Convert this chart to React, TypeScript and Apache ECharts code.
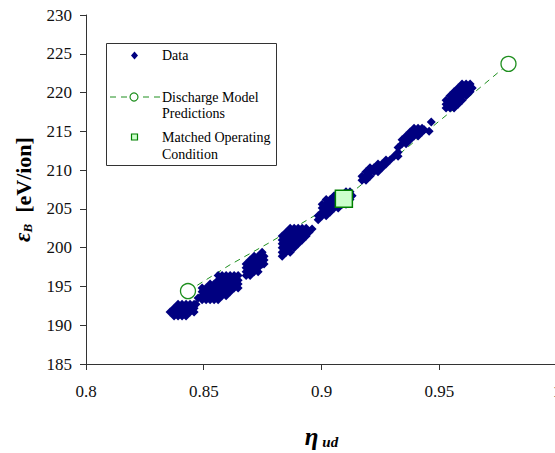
import { useEffect, useRef } from "react";
import * as echarts from "echarts";

// Measured points, grouped by cluster: [eta_ud, [eps_B values...]]
const clusterA: [number, number[]][] = [
  [0.8357, [191.7]],
  [0.8374, [192.2, 191.7, 191.2]],
  [0.8391, [192.7, 192.2, 191.7, 191.2]],
  [0.8408, [192.7, 192.2, 191.7, 191.2]],
  [0.8425, [192.7, 192.2, 191.7, 191.2]],
  [0.8442, [192.7, 192.2, 191.7]],
  [0.8459, [192.7, 192.2, 191.7]],
  [0.8467, [192.7]],
];
const clusterB: [number, number[]][] = [
  [0.8476, [193.5]],
  [0.8493, [194.8, 194.3, 193.8, 193.3]],
  [0.851, [194.8, 194.3, 193.8, 193.3]],
  [0.8527, [195.3, 194.8, 194.3, 193.8, 193.3]],
  [0.8544, [195.3, 194.8, 194.3, 193.8, 193.3]],
  [0.8561, [196.4, 195.8, 195.3, 194.8, 194.3, 193.8, 193.3]],
  [0.8578, [196.4, 195.8, 195.3, 194.8, 194.3, 193.8]],
  [0.8595, [196.4, 195.8, 195.3, 194.8, 194.3, 193.8]],
  [0.8612, [196.4, 195.8, 195.3, 194.8, 194.3]],
  [0.8629, [196.4, 195.8, 195.3, 194.8]],
  [0.8646, [196.4, 195.8, 195.3, 194.8]],
];
const clusterC: [number, number[]][] = [
  [0.868, [197.9, 197.4, 196.9, 196.4]],
  [0.8697, [198.4, 197.9, 197.4, 196.9, 196.4]],
  [0.8714, [198.9, 198.4, 197.9, 197.4, 196.9]],
  [0.8731, [198.9, 198.4, 197.9, 197.4, 196.9]],
  [0.8748, [199.4, 198.9, 198.4, 197.9]],
  [0.8756, [198.9, 198.4, 197.9]],
];
const clusterD: [number, number[]][] = [
  [0.8833, [201.5, 201.0, 200.5, 200.0, 199.4, 198.9]],
  [0.885, [202.0, 201.5, 201.0, 200.5, 200.0, 199.4]],
  [0.8867, [202.5, 202.0, 201.5, 201.0, 200.5, 200.0, 199.4]],
  [0.8884, [202.5, 202.0, 201.5, 201.0, 200.5, 200.0]],
  [0.8901, [202.5, 202.0, 201.5, 201.0, 200.5]],
  [0.8918, [202.5, 202.0, 201.5, 201.0]],
  [0.8935, [202.5, 202.0, 201.5]],
  [0.8947, [202.0]],
  [0.896, [202.4]],
];
const clusterE: [number, number[]][] = [
  [0.8986, [204.1, 203.6]],
  [0.9003, [205.6, 205.1, 204.6, 204.1]],
  [0.902, [206.2, 205.6, 205.1, 204.6, 204.1]],
  [0.9037, [206.2, 205.6, 205.1, 204.6]],
  [0.9054, [206.7, 206.2, 205.6, 205.1]],
  [0.9071, [206.7, 206.2, 205.6, 205.1]],
  [0.9087, [206.7, 206.2, 205.6]],
  [0.9104, [207.2, 206.7, 206.2, 205.6]],
  [0.9121, [207.2, 206.7, 206.2]],
  [0.913, [206.7]],
];
const clusterF: [number, number[]][] = [
  [0.9172, [209.2, 208.7]],
  [0.9189, [209.8, 209.2, 208.7]],
  [0.9206, [210.3, 209.8, 209.2]],
  [0.9223, [210.3, 209.8]],
  [0.924, [210.8, 210.3, 209.8]],
  [0.9257, [210.8, 210.3]],
  [0.9274, [211.3, 210.8]],
  [0.9291, [211.3]],
  [0.9308, [211.8]],
  [0.9325, [212.9, 212.3, 211.8]],
];
const clusterG: [number, number[]][] = [
  [0.9342, [213.9, 213.4]],
  [0.9359, [214.4, 213.9, 213.4]],
  [0.9376, [214.9, 214.4, 213.9]],
  [0.9393, [215.4, 214.9, 214.4]],
  [0.941, [215.4, 214.9, 214.4]],
  [0.9427, [215.4, 214.9]],
  [0.9436, [215.2]],
  [0.9457, [215.0]],
  [0.9466, [216.2]],
];
const clusterH: [number, number[]][] = [
  [0.9529, [219.0, 218.5, 218.0]],
  [0.9546, [219.6, 219.0, 218.5, 218.0]],
  [0.9563, [220.1, 219.6, 219.0, 218.5, 218.0]],
  [0.958, [220.6, 220.1, 219.6, 219.0, 218.5]],
  [0.9597, [221.1, 220.6, 220.1, 219.6, 219.0]],
  [0.9614, [221.1, 220.6, 220.1, 219.6]],
  [0.9631, [221.1, 220.6, 220.1]],
  [0.964, [220.6]],
];

// Discharge model predictions (dashed curve) and the matched operating point
const modelEta = [0.8433, 0.8612, 0.8782, 0.8952, 0.9095, 0.93, 0.9511, 0.966, 0.9794];
const modelEps = [194.4, 197.8, 200.7, 203.8, 206.3, 211.3, 216.6, 220.3, 223.7];
const matchedEta = [0.9095];
const matchedEps = [206.3];

const SERIF = "Liberation Serif";
const NAVY = "#000080";
const GREEN = "#1f8f1f";

export default function App() {
  const ref = useRef<HTMLDivElement>(null);

  useEffect(() => {
    if (!ref.current) return;
    const chart = echarts.init(ref.current, null, { renderer: "svg" });

    const measured = [clusterA, clusterB, clusterC, clusterD, clusterE, clusterF, clusterG, clusterH].flatMap(
      (c) => c.flatMap(([x, ys]) => ys.map((y) => [x, y]))
    );
    const last = modelEta.length - 1;
    const model = modelEta.map((x, i) => ({
      value: [x, modelEps[i]],
      symbol: i === 0 || i === last ? "circle" : "none",
    }));
    const matched = matchedEta.map((x, i) => [x, matchedEps[i]]);

    const legendText = (text: string, y: number) => ({
      type: "text",
      style: {
        text,
        x: 162,
        y,
        fontFamily: SERIF,
        fontSize: 14,
        fill: "#000",
        align: "left",
        verticalAlign: "middle",
      },
      z: 101,
    });

    const tickLabel = { margin: 14, fontFamily: SERIF, fontSize: 17, fontWeight: "normal", color: "#111" };

    chart.setOption({
      animation: false,
      backgroundColor: "#fff",
      textStyle: { fontFamily: SERIF },
      grid: { left: 86, top: 15, width: 471, height: 349, containLabel: false, outerBoundsMode: "none" },
      xAxis: {
        type: "value",
        min: 0.8,
        max: 1,
        interval: 0.05,
        axisLine: { show: true, lineStyle: { color: "#333", width: 1 } },
        axisTick: { show: true, length: 6, lineStyle: { color: "#333" } },
        splitLine: { show: false },
        axisLabel: { ...tickLabel, margin: 19, hideOverlap: false },
        name: "{eta|η}{sub| ud}",
        nameLocation: "middle",
        nameGap: 60,
        nameTextStyle: {
          rich: {
            eta: { fontFamily: SERIF, fontSize: 25, fontWeight: "bold", fontStyle: "italic", color: "#000", verticalAlign: "bottom" },
            sub: { fontFamily: SERIF, fontSize: 15, fontWeight: "bold", fontStyle: "italic", color: "#000", verticalAlign: "bottom" },
          },
        },
      },
      yAxis: {
        type: "value",
        min: 185,
        max: 230,
        interval: 5,
        axisLine: { show: true, lineStyle: { color: "#333", width: 1 } },
        axisTick: { show: true, length: 6, lineStyle: { color: "#333" } },
        splitLine: { show: false },
        axisLabel: tickLabel,
        name: "{e|ε}{b|B}{t|  [eV/ion]}",
        nameLocation: "middle",
        nameGap: 52,
        nameTextStyle: {
          rich: {
            e: { fontFamily: SERIF, fontSize: 23, fontWeight: "bold", fontStyle: "italic", color: "#000", verticalAlign: "bottom" },
            b: { fontFamily: SERIF, fontSize: 13, fontWeight: "bold", fontStyle: "italic", color: "#000", verticalAlign: "bottom" },
            t: { fontFamily: SERIF, fontSize: 22, fontWeight: "bold", color: "#000", verticalAlign: "bottom" },
          },
        },
      },
      series: [
        {
          name: "Discharge Model Predictions",
          type: "line",
          data: model,
          symbolSize: 15,
          showAllSymbol: true,
          lineStyle: { color: GREEN, width: 1, type: [6, 5] },
          itemStyle: { color: "#fff", borderColor: GREEN, borderWidth: 1.3, opacity: 1 },
          z: 2,
        },
        {
          name: "Data",
          type: "scatter",
          data: measured,
          symbol: "diamond",
          symbolSize: 9,
          itemStyle: { color: NAVY, opacity: 1 },
          z: 3,
        },
        {
          name: "Matched Operating Condition",
          type: "scatter",
          data: matched,
          symbol: "rect",
          symbolSize: 17,
          itemStyle: { color: "#ccffcc", borderColor: "#008000", borderWidth: 1.5, opacity: 1 },
          z: 4,
        },
      ],
      graphic: [
        {
          type: "rect",
          shape: { x: 106.5, y: 43.5, width: 170, height: 122 },
          style: { fill: "#fff", stroke: "#333", lineWidth: 1 },
          z: 100,
        },
        {
          type: "polygon",
          shape: { points: [[134.5, 51.5], [138, 55.5], [134.5, 59.5], [131, 55.5]] },
          style: { fill: NAVY },
          z: 101,
        },
        legendText("Data", 55),
        {
          type: "line",
          shape: { x1: 110, y1: 97, x2: 160, y2: 97 },
          style: { stroke: GREEN, lineWidth: 1, lineDash: [6, 5] },
          z: 101,
        },
        {
          type: "circle",
          shape: { cx: 134, cy: 97, r: 4 },
          style: { fill: "#fff", stroke: GREEN, lineWidth: 1.2 },
          z: 102,
        },
        legendText("Discharge Model", 97),
        legendText("Predictions", 113),
        {
          type: "rect",
          shape: { x: 131.5, y: 134, width: 6, height: 6 },
          style: { fill: "#ccffcc", stroke: "#008000", lineWidth: 1.2 },
          z: 101,
        },
        legendText("Matched Operating", 137),
        legendText("Condition", 154),
      ],
    });

    return () => chart.dispose();
  }, []);

  return (
    <div
      ref={ref}
      style={{ position: "fixed", left: 0, top: 0, width: 555, height: 453, background: "#fff" }}
    />
  );
}
